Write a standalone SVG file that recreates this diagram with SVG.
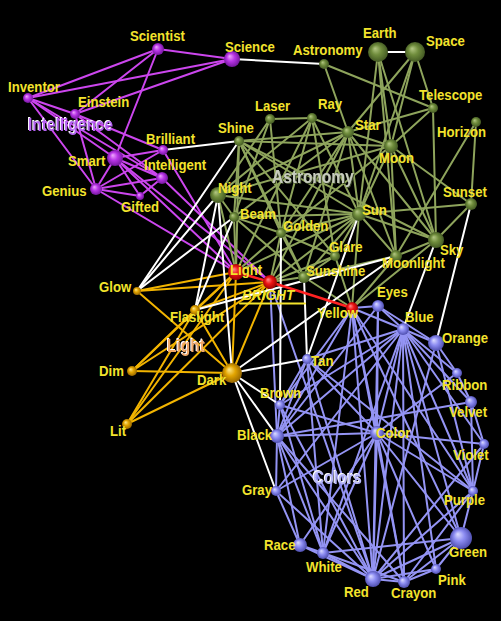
<svg xmlns="http://www.w3.org/2000/svg" width="501" height="621" viewBox="0 0 501 621">
<defs>
<radialGradient id="gP" cx="0.5" cy="0.5" r="0.55" fx="0.35" fy="0.32"><stop offset="0" stop-color="#f0a8ff"/><stop offset="0.45" stop-color="#b835e6"/><stop offset="1" stop-color="#6a1292"/></radialGradient>
<radialGradient id="gG" cx="0.5" cy="0.5" r="0.55" fx="0.35" fy="0.32"><stop offset="0" stop-color="#b4c884"/><stop offset="0.45" stop-color="#6f8c3c"/><stop offset="1" stop-color="#3d5220"/></radialGradient>
<radialGradient id="gR" cx="0.5" cy="0.5" r="0.55" fx="0.35" fy="0.32"><stop offset="0" stop-color="#ff9090"/><stop offset="0.45" stop-color="#ee1414"/><stop offset="1" stop-color="#8c0000"/></radialGradient>
<radialGradient id="gY" cx="0.5" cy="0.5" r="0.55" fx="0.35" fy="0.32"><stop offset="0" stop-color="#ffe98a"/><stop offset="0.45" stop-color="#e2a400"/><stop offset="1" stop-color="#8a5c00"/></radialGradient>
<radialGradient id="gB" cx="0.5" cy="0.5" r="0.55" fx="0.35" fy="0.32"><stop offset="0" stop-color="#dcdcff"/><stop offset="0.45" stop-color="#8c8cf2"/><stop offset="1" stop-color="#4646a6"/></radialGradient>
<filter id="embossW" x="-10%" y="-20%" width="120%" height="140%"><feFlood flood-color="#ffffff"/><feComposite in2="SourceAlpha" operator="in"/><feOffset dx="-1" dy="-1" result="hl"/><feMerge><feMergeNode in="hl"/><feMergeNode in="SourceGraphic"/></feMerge></filter>
<filter id="embossD" x="-10%" y="-20%" width="120%" height="140%"><feFlood flood-color="#3c4a28"/><feComposite in2="SourceAlpha" operator="in"/><feOffset dx="1" dy="1" result="sh"/><feMerge><feMergeNode in="sh"/><feMergeNode in="SourceGraphic"/></feMerge></filter>
<style>
line{stroke-width:2;stroke-linecap:round}
.ep line{stroke:#cc46ee}
.eg line{stroke:#8ea45c}
.ey line{stroke:#f2b400}
.eb line{stroke:#9494f4}
.ew line{stroke:#ffffff}
.er line{stroke:#ff2222;stroke-width:2.5}
.lbl{font-family:"Liberation Sans",Arial,sans-serif;font-weight:bold;font-size:15.5px;fill:#f3e32c}
.grp{font-family:"Liberation Sans",Arial,sans-serif;font-weight:bold;font-size:18px}
</style>
</defs>
<rect width="501" height="621" fill="#000000"/>
<g id="connectors">
<g class="ep">
<line x1="28" y1="98" x2="158" y2="49"/><line x1="28" y1="98" x2="232" y2="59"/><line x1="28" y1="98" x2="75" y2="114"/><line x1="28" y1="98" x2="115" y2="158"/><line x1="28" y1="98" x2="96" y2="189"/><line x1="28" y1="98" x2="162" y2="178"/>
<line x1="158" y1="49" x2="232" y2="59"/><line x1="158" y1="49" x2="75" y2="114"/><line x1="158" y1="49" x2="115" y2="158"/><line x1="232" y1="59" x2="75" y2="114"/>
<line x1="75" y1="114" x2="163" y2="150"/><line x1="75" y1="114" x2="96" y2="189"/><line x1="75" y1="114" x2="162" y2="178"/>
<line x1="115" y1="158" x2="163" y2="150"/><line x1="115" y1="158" x2="162" y2="178"/><line x1="115" y1="158" x2="96" y2="189"/><line x1="115" y1="158" x2="140" y2="196"/>
<line x1="96" y1="189" x2="163" y2="150"/><line x1="96" y1="189" x2="162" y2="178"/><line x1="96" y1="189" x2="140" y2="196"/><line x1="140" y1="196" x2="162" y2="178"/>
<line x1="115" y1="158" x2="236" y2="272"/><line x1="115" y1="158" x2="270" y2="282"/><line x1="162" y1="178" x2="270" y2="282"/><line x1="163" y1="150" x2="236" y2="272"/><line x1="96" y1="189" x2="236" y2="272"/>
</g>
<g class="eg">
<line x1="324" y1="64" x2="348" y2="132"/><line x1="324" y1="64" x2="433" y2="108"/>
<line x1="378" y1="52" x2="391" y2="146"/><line x1="378" y1="52" x2="359" y2="214"/><line x1="378" y1="52" x2="436" y2="240"/><line x1="378" y1="52" x2="396" y2="256"/>
<line x1="415" y1="52" x2="348" y2="132"/><line x1="415" y1="52" x2="433" y2="108"/><line x1="415" y1="52" x2="391" y2="146"/><line x1="415" y1="52" x2="359" y2="214"/>
<line x1="433" y1="108" x2="348" y2="132"/><line x1="433" y1="108" x2="391" y2="146"/><line x1="433" y1="108" x2="436" y2="240"/>
<line x1="476" y1="122" x2="471" y2="204"/><line x1="476" y1="122" x2="396" y2="256"/>
<line x1="270" y1="119" x2="312" y2="118"/><line x1="270" y1="119" x2="234" y2="217"/><line x1="270" y1="119" x2="281" y2="233"/><line x1="270" y1="119" x2="218" y2="195"/>
<line x1="312" y1="118" x2="348" y2="132"/><line x1="312" y1="118" x2="218" y2="195"/><line x1="312" y1="118" x2="281" y2="233"/><line x1="312" y1="118" x2="359" y2="214"/><line x1="312" y1="118" x2="236" y2="272"/><line x1="312" y1="118" x2="335" y2="256"/>
<line x1="239" y1="141" x2="348" y2="132"/><line x1="239" y1="141" x2="391" y2="146"/><line x1="239" y1="141" x2="359" y2="214"/><line x1="239" y1="141" x2="436" y2="240"/><line x1="239" y1="141" x2="335" y2="256"/><line x1="239" y1="141" x2="234" y2="217"/><line x1="239" y1="141" x2="281" y2="233"/><line x1="239" y1="141" x2="304" y2="277"/><line x1="239" y1="141" x2="236" y2="272"/>
<line x1="348" y1="132" x2="391" y2="146"/><line x1="348" y1="132" x2="359" y2="214"/><line x1="348" y1="132" x2="436" y2="240"/><line x1="348" y1="132" x2="396" y2="256"/><line x1="348" y1="132" x2="218" y2="195"/><line x1="348" y1="132" x2="234" y2="217"/><line x1="348" y1="132" x2="281" y2="233"/><line x1="348" y1="132" x2="304" y2="277"/><line x1="348" y1="132" x2="270" y2="282"/>
<line x1="391" y1="146" x2="359" y2="214"/><line x1="391" y1="146" x2="436" y2="240"/><line x1="391" y1="146" x2="396" y2="256"/><line x1="391" y1="146" x2="218" y2="195"/><line x1="391" y1="146" x2="471" y2="204"/><line x1="391" y1="146" x2="281" y2="233"/>
<line x1="359" y1="214" x2="471" y2="204"/><line x1="359" y1="214" x2="436" y2="240"/><line x1="359" y1="214" x2="396" y2="256"/><line x1="359" y1="214" x2="281" y2="233"/><line x1="359" y1="214" x2="335" y2="256"/><line x1="359" y1="214" x2="304" y2="277"/><line x1="359" y1="214" x2="218" y2="195"/><line x1="359" y1="214" x2="234" y2="217"/><line x1="359" y1="214" x2="236" y2="272"/><line x1="359" y1="214" x2="270" y2="282"/><line x1="359" y1="214" x2="352" y2="308"/>
<line x1="436" y1="240" x2="396" y2="256"/><line x1="436" y1="240" x2="471" y2="204"/><line x1="436" y1="240" x2="352" y2="308"/>
<line x1="218" y1="195" x2="234" y2="217"/><line x1="218" y1="195" x2="236" y2="272"/>
<line x1="234" y1="217" x2="236" y2="272"/><line x1="234" y1="217" x2="281" y2="233"/><line x1="234" y1="217" x2="304" y2="277"/>
<line x1="281" y1="233" x2="236" y2="272"/><line x1="281" y1="233" x2="270" y2="282"/><line x1="281" y1="233" x2="335" y2="256"/><line x1="281" y1="233" x2="304" y2="277"/>
<line x1="335" y1="256" x2="270" y2="282"/><line x1="335" y1="256" x2="352" y2="308"/><line x1="335" y1="256" x2="304" y2="277"/>
<line x1="304" y1="277" x2="270" y2="282"/><line x1="304" y1="277" x2="352" y2="308"/>
<line x1="396" y1="256" x2="352" y2="308"/><line x1="396" y1="256" x2="304" y2="277"/>
</g>
<g class="ey">
<line x1="137" y1="291" x2="236" y2="272"/><line x1="137" y1="291" x2="270" y2="282"/><line x1="137" y1="291" x2="232" y2="373"/>
<line x1="195" y1="310" x2="236" y2="272"/><line x1="195" y1="310" x2="270" y2="282"/><line x1="195" y1="310" x2="232" y2="373"/><line x1="195" y1="310" x2="132" y2="371"/><line x1="195" y1="310" x2="127" y2="424"/>
<line x1="132" y1="371" x2="232" y2="373"/><line x1="132" y1="371" x2="236" y2="272"/><line x1="132" y1="371" x2="270" y2="282"/>
<line x1="127" y1="424" x2="232" y2="373"/><line x1="127" y1="424" x2="236" y2="272"/><line x1="127" y1="424" x2="270" y2="282"/>
<line x1="232" y1="373" x2="236" y2="272"/><line x1="232" y1="373" x2="270" y2="282"/>
</g>
<g class="eb">
<line x1="352" y1="308" x2="403" y2="329"/><line x1="352" y1="308" x2="377" y2="433"/><line x1="352" y1="308" x2="277" y2="436"/><line x1="352" y1="308" x2="373" y2="579"/><line x1="352" y1="308" x2="404" y2="582"/><line x1="352" y1="308" x2="461" y2="538"/><line x1="352" y1="308" x2="473" y2="491"/><line x1="352" y1="308" x2="280" y2="405"/><line x1="352" y1="308" x2="378" y2="306"/><line x1="352" y1="308" x2="323" y2="553"/>
<line x1="270" y1="282" x2="373" y2="579"/><line x1="270" y1="282" x2="277" y2="436"/>
<line x1="378" y1="306" x2="403" y2="329"/><line x1="378" y1="306" x2="377" y2="433"/><line x1="378" y1="306" x2="373" y2="579"/><line x1="378" y1="306" x2="277" y2="436"/><line x1="378" y1="306" x2="436" y2="343"/>
<line x1="403" y1="329" x2="436" y2="343"/><line x1="403" y1="329" x2="457" y2="373"/><line x1="403" y1="329" x2="471" y2="402"/><line x1="403" y1="329" x2="484" y2="444"/><line x1="403" y1="329" x2="473" y2="491"/><line x1="403" y1="329" x2="461" y2="538"/><line x1="403" y1="329" x2="436" y2="569"/><line x1="403" y1="329" x2="404" y2="582"/><line x1="403" y1="329" x2="373" y2="579"/><line x1="403" y1="329" x2="377" y2="433"/><line x1="403" y1="329" x2="277" y2="436"/><line x1="403" y1="329" x2="280" y2="405"/><line x1="403" y1="329" x2="307" y2="359"/><line x1="403" y1="329" x2="323" y2="553"/><line x1="403" y1="329" x2="276" y2="491"/>
<line x1="436" y1="343" x2="457" y2="373"/><line x1="436" y1="343" x2="373" y2="579"/><line x1="436" y1="343" x2="473" y2="491"/>
<line x1="457" y1="373" x2="471" y2="402"/><line x1="457" y1="373" x2="377" y2="433"/>
<line x1="471" y1="402" x2="484" y2="444"/><line x1="471" y1="402" x2="277" y2="436"/><line x1="471" y1="402" x2="473" y2="491"/>
<line x1="484" y1="444" x2="473" y2="491"/><line x1="484" y1="444" x2="377" y2="433"/><line x1="484" y1="444" x2="373" y2="579"/>
<line x1="473" y1="491" x2="461" y2="538"/><line x1="473" y1="491" x2="373" y2="579"/><line x1="473" y1="491" x2="404" y2="582"/><line x1="473" y1="491" x2="377" y2="433"/>
<line x1="461" y1="538" x2="436" y2="569"/><line x1="461" y1="538" x2="373" y2="579"/><line x1="461" y1="538" x2="404" y2="582"/><line x1="461" y1="538" x2="323" y2="553"/><line x1="461" y1="538" x2="377" y2="433"/>
<line x1="436" y1="569" x2="373" y2="579"/><line x1="436" y1="569" x2="404" y2="582"/><line x1="436" y1="569" x2="377" y2="433"/>
<line x1="373" y1="579" x2="404" y2="582"/><line x1="373" y1="579" x2="323" y2="553"/><line x1="373" y1="579" x2="300" y2="545"/><line x1="373" y1="579" x2="277" y2="436"/><line x1="373" y1="579" x2="377" y2="433"/><line x1="373" y1="579" x2="280" y2="405"/><line x1="373" y1="579" x2="276" y2="491"/><line x1="373" y1="579" x2="307" y2="359"/>
<line x1="404" y1="582" x2="377" y2="433"/><line x1="404" y1="582" x2="323" y2="553"/><line x1="404" y1="582" x2="277" y2="436"/>
<line x1="323" y1="553" x2="277" y2="436"/><line x1="323" y1="553" x2="300" y2="545"/><line x1="323" y1="553" x2="280" y2="405"/><line x1="323" y1="553" x2="377" y2="433"/><line x1="323" y1="553" x2="307" y2="359"/>
<line x1="300" y1="545" x2="277" y2="436"/><line x1="300" y1="545" x2="276" y2="491"/><line x1="300" y1="545" x2="377" y2="433"/>
<line x1="276" y1="491" x2="277" y2="436"/><line x1="276" y1="491" x2="377" y2="433"/>
<line x1="277" y1="436" x2="377" y2="433"/><line x1="277" y1="436" x2="280" y2="405"/><line x1="277" y1="436" x2="307" y2="359"/>
<line x1="280" y1="405" x2="377" y2="433"/><line x1="280" y1="405" x2="307" y2="359"/><line x1="307" y1="359" x2="377" y2="433"/><line x1="307" y1="359" x2="473" y2="491"/>
</g>
<g class="ew">
<line x1="232" y1="59" x2="324" y2="64"/><line x1="378" y1="52" x2="415" y2="52"/><line x1="163" y1="150" x2="239" y2="141"/>
<line x1="239" y1="141" x2="137" y2="291"/><line x1="218" y1="195" x2="137" y2="291"/><line x1="234" y1="217" x2="137" y2="291"/>
<line x1="218" y1="195" x2="195" y2="310"/><line x1="234" y1="217" x2="195" y2="310"/><line x1="218" y1="195" x2="232" y2="373"/>
<line x1="281" y1="233" x2="280" y2="405"/><line x1="304" y1="277" x2="307" y2="359"/><line x1="359" y1="214" x2="307" y2="359"/>
<line x1="232" y1="373" x2="307" y2="359"/><line x1="232" y1="373" x2="280" y2="405"/><line x1="232" y1="373" x2="277" y2="436"/><line x1="232" y1="373" x2="276" y2="491"/><line x1="232" y1="373" x2="396" y2="256"/>
<line x1="396" y1="256" x2="195" y2="310"/>
<line x1="436" y1="240" x2="403" y2="329"/><line x1="471" y1="204" x2="436" y2="343"/>
</g>
<g class="er">
<line x1="236" y1="272" x2="270" y2="282"/><line x1="270" y1="282" x2="352" y2="308"/>
</g>
</g>
<g id="cluster-labels">
<text id="lbl-intelligence" class="grp" fill="#b562f2" filter="url(#embossW)" transform="translate(28,131) scale(0.86,1)">Intelligence</text>
<text id="lbl-astronomy" class="grp" fill="#c6cbbd" filter="url(#embossD)" transform="translate(272,183) scale(0.86,1)">Astronomy</text>
<text id="lbl-light" class="grp" fill="#f0a868" filter="url(#embossW)" transform="translate(167,352) scale(0.86,1)">Light</text>
<text id="lbl-colors" class="grp" fill="#b8b8f8" filter="url(#embossW)" transform="translate(313,484) scale(0.86,1)">Colors</text>
</g>
<g id="nodes">
<g id="n-scientist"><circle cx="158" cy="49" r="6" fill="url(#gP)"/><text class="lbl" transform="translate(130,41) scale(0.85,1)">Scientist</text></g>
<g id="n-science"><circle cx="232" cy="59" r="8" fill="url(#gP)"/><text class="lbl" transform="translate(225,52) scale(0.85,1)">Science</text></g>
<g id="n-inventor"><circle cx="28" cy="98" r="5" fill="url(#gP)"/><text class="lbl" transform="translate(8,92) scale(0.85,1)">Inventor</text></g>
<g id="n-einstein"><circle cx="75" cy="114" r="5" fill="url(#gP)"/><text class="lbl" transform="translate(78,107) scale(0.85,1)">Einstein</text></g>
<g id="n-smart"><circle cx="115" cy="158" r="8" fill="url(#gP)"/><text class="lbl" transform="translate(68,166) scale(0.85,1)">Smart</text></g>
<g id="n-brilliant"><circle cx="163" cy="150" r="5" fill="url(#gP)"/><text class="lbl" transform="translate(146,144) scale(0.85,1)">Brilliant</text></g>
<g id="n-intelligent"><circle cx="162" cy="178" r="6" fill="url(#gP)"/><text class="lbl" transform="translate(144,170) scale(0.85,1)">Intelligent</text></g>
<g id="n-genius"><circle cx="96" cy="189" r="6" fill="url(#gP)"/><text class="lbl" transform="translate(42,196) scale(0.85,1)">Genius</text></g>
<g id="n-gifted"><circle cx="140" cy="196" r="4" fill="url(#gP)"/><text class="lbl" transform="translate(121,212) scale(0.85,1)">Gifted</text></g>
<g id="n-earth"><circle cx="378" cy="52" r="10" fill="url(#gG)"/><text class="lbl" transform="translate(363,38) scale(0.85,1)">Earth</text></g>
<g id="n-space"><circle cx="415" cy="52" r="10" fill="url(#gG)"/><text class="lbl" transform="translate(426,46) scale(0.85,1)">Space</text></g>
<g id="n-astronomy"><circle cx="324" cy="64" r="5" fill="url(#gG)"/><text class="lbl" transform="translate(293,55) scale(0.85,1)">Astronomy</text></g>
<g id="n-telescope"><circle cx="433" cy="108" r="5" fill="url(#gG)"/><text class="lbl" transform="translate(419,100) scale(0.85,1)">Telescope</text></g>
<g id="n-laser"><circle cx="270" cy="119" r="5" fill="url(#gG)"/><text class="lbl" transform="translate(255,111) scale(0.85,1)">Laser</text></g>
<g id="n-ray"><circle cx="312" cy="118" r="5" fill="url(#gG)"/><text class="lbl" transform="translate(318,109) scale(0.85,1)">Ray</text></g>
<g id="n-star"><circle cx="348" cy="132" r="6" fill="url(#gG)"/><text class="lbl" transform="translate(355,130) scale(0.85,1)">Star</text></g>
<g id="n-horizon"><circle cx="476" cy="122" r="5" fill="url(#gG)"/><text class="lbl" transform="translate(437,137) scale(0.85,1)">Horizon</text></g>
<g id="n-shine"><circle cx="239" cy="141" r="5" fill="url(#gG)"/><text class="lbl" transform="translate(218,133) scale(0.85,1)">Shine</text></g>
<g id="n-moon"><circle cx="391" cy="146" r="7" fill="url(#gG)"/><text class="lbl" transform="translate(379,163) scale(0.85,1)">Moon</text></g>
<g id="n-night"><circle cx="218" cy="195" r="8" fill="url(#gG)"/><text class="lbl" transform="translate(218,193) scale(0.85,1)">Night</text></g>
<g id="n-sunset"><circle cx="471" cy="204" r="6" fill="url(#gG)"/><text class="lbl" transform="translate(443,197) scale(0.85,1)">Sunset</text></g>
<g id="n-beam"><circle cx="234" cy="217" r="5" fill="url(#gG)"/><text class="lbl" transform="translate(240,219) scale(0.85,1)">Beam</text></g>
<g id="n-sun"><circle cx="359" cy="214" r="7" fill="url(#gG)"/><text class="lbl" transform="translate(362,215) scale(0.85,1)">Sun</text></g>
<g id="n-golden"><circle cx="281" cy="233" r="5" fill="url(#gG)"/><text class="lbl" transform="translate(283,231) scale(0.85,1)">Golden</text></g>
<g id="n-glare"><circle cx="335" cy="256" r="5" fill="url(#gG)"/><text class="lbl" transform="translate(329,252) scale(0.85,1)">Glare</text></g>
<g id="n-sky"><circle cx="436" cy="240" r="8" fill="url(#gG)"/><text class="lbl" transform="translate(440,255) scale(0.85,1)">Sky</text></g>
<g id="n-moonlight"><circle cx="396" cy="256" r="6" fill="url(#gG)"/><text class="lbl" transform="translate(382,268) scale(0.85,1)">Moonlight</text></g>
<g id="n-sunshine"><circle cx="304" cy="277" r="6" fill="url(#gG)"/><text class="lbl" transform="translate(306,276) scale(0.85,1)">Sunshine</text></g>
<g id="n-light"><circle cx="236" cy="272" r="8" fill="url(#gR)"/><text class="lbl" transform="translate(230,275) scale(0.85,1)">Light</text></g>
<g id="n-bright"><circle cx="270" cy="282" r="7" fill="url(#gR)"/><text class="lbl" font-style="italic" font-size="18" transform="translate(242,300) scale(0.88,1)">BRIGHT</text><line x1="240" y1="303.5" x2="305" y2="303.5" stroke="#f3e32c" stroke-width="2"/></g>
<g id="n-yellow"><circle cx="352" cy="308" r="6" fill="url(#gR)"/><text class="lbl" transform="translate(317,318) scale(0.85,1)">Yellow</text></g>
<g id="n-glow"><circle cx="137" cy="291" r="4" fill="url(#gY)"/><text class="lbl" transform="translate(99,292) scale(0.85,1)">Glow</text></g>
<g id="n-flaslight"><circle cx="195" cy="310" r="5" fill="url(#gY)"/><text class="lbl" transform="translate(170,322) scale(0.85,1)">Flaslight</text></g>
<g id="n-dim"><circle cx="132" cy="371" r="5" fill="url(#gY)"/><text class="lbl" transform="translate(99,376) scale(0.85,1)">Dim</text></g>
<g id="n-dark"><circle cx="232" cy="373" r="10" fill="url(#gY)"/><text class="lbl" transform="translate(197,385) scale(0.85,1)">Dark</text></g>
<g id="n-lit"><circle cx="127" cy="424" r="5" fill="url(#gY)"/><text class="lbl" transform="translate(110,436) scale(0.85,1)">Lit</text></g>
<g id="n-eyes"><circle cx="378" cy="306" r="6" fill="url(#gB)"/><text class="lbl" transform="translate(377,297) scale(0.85,1)">Eyes</text></g>
<g id="n-blue"><circle cx="403" cy="329" r="6" fill="url(#gB)"/><text class="lbl" transform="translate(405,322) scale(0.85,1)">Blue</text></g>
<g id="n-orange"><circle cx="436" cy="343" r="8" fill="url(#gB)"/><text class="lbl" transform="translate(442,343) scale(0.85,1)">Orange</text></g>
<g id="n-tan"><circle cx="307" cy="359" r="5" fill="url(#gB)"/><text class="lbl" transform="translate(311,366) scale(0.85,1)">Tan</text></g>
<g id="n-ribbon"><circle cx="457" cy="373" r="5" fill="url(#gB)"/><text class="lbl" transform="translate(442,390) scale(0.85,1)">Ribbon</text></g>
<g id="n-brown"><circle cx="280" cy="405" r="5" fill="url(#gB)"/><text class="lbl" transform="translate(260,398) scale(0.85,1)">Brown</text></g>
<g id="n-velvet"><circle cx="471" cy="402" r="6" fill="url(#gB)"/><text class="lbl" transform="translate(449,417) scale(0.85,1)">Velvet</text></g>
<g id="n-black"><circle cx="277" cy="436" r="7" fill="url(#gB)"/><text class="lbl" transform="translate(237,440) scale(0.85,1)">Black</text></g>
<g id="n-color"><circle cx="377" cy="433" r="7" fill="url(#gB)"/><text class="lbl" transform="translate(376,438) scale(0.85,1)">Color</text></g>
<g id="n-violet"><circle cx="484" cy="444" r="5" fill="url(#gB)"/><text class="lbl" transform="translate(453,460) scale(0.85,1)">Violet</text></g>
<g id="n-gray"><circle cx="276" cy="491" r="5" fill="url(#gB)"/><text class="lbl" transform="translate(242,495) scale(0.85,1)">Gray</text></g>
<g id="n-purple"><circle cx="473" cy="491" r="5" fill="url(#gB)"/><text class="lbl" transform="translate(444,505) scale(0.85,1)">Purple</text></g>
<g id="n-green"><circle cx="461" cy="538" r="11" fill="url(#gB)"/><text class="lbl" transform="translate(449,557) scale(0.85,1)">Green</text></g>
<g id="n-race"><circle cx="300" cy="545" r="7" fill="url(#gB)"/><text class="lbl" transform="translate(264,550) scale(0.85,1)">Race</text></g>
<g id="n-white"><circle cx="323" cy="553" r="6" fill="url(#gB)"/><text class="lbl" transform="translate(306,572) scale(0.85,1)">White</text></g>
<g id="n-pink"><circle cx="436" cy="569" r="5" fill="url(#gB)"/><text class="lbl" transform="translate(438,585) scale(0.85,1)">Pink</text></g>
<g id="n-red"><circle cx="373" cy="579" r="8" fill="url(#gB)"/><text class="lbl" transform="translate(344,597) scale(0.85,1)">Red</text></g>
<g id="n-crayon"><circle cx="404" cy="582" r="6" fill="url(#gB)"/><text class="lbl" transform="translate(391,598) scale(0.85,1)">Crayon</text></g>
</g>
</svg>
